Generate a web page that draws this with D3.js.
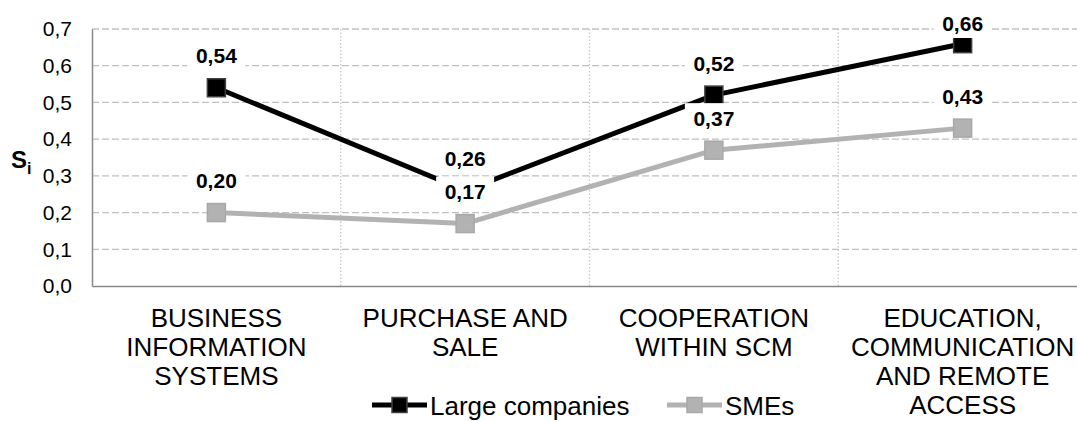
<!DOCTYPE html>
<html>
<head>
<meta charset="utf-8">
<script src="https://cdn.jsdelivr.net/npm/d3@7"></script>
<style>
  html, body { margin: 0; padding: 0; background: #fff; }
  svg { display: block; font-family: "Liberation Sans", Arial, sans-serif; }
</style>
</head>
<body>
<svg id="chart" width="1077" height="421"></svg>
<script>
// Categories (line breaks mark how each axis label wraps)
const categories = [
  "BUSINESS\nINFORMATION\nSYSTEMS",
  "PURCHASE AND\nSALE",
  "COOPERATION\nWITHIN SCM",
  "EDUCATION,\nCOMMUNICATION\nAND REMOTE\nACCESS"
];
const largeCompanies = [0.54, 0.26, 0.52, 0.66];
const smes = [0.20, 0.17, 0.37, 0.43];
const yTicks = [0, 0.1, 0.2, 0.3, 0.4, 0.5, 0.6, 0.7];
const seriesNames = ["Large companies", "SMEs"];

const series = [
  { name: seriesNames[0], values: largeCompanies, line: "#000000", fill: "#000000", stroke: "#404040" },
  { name: seriesNames[1], values: smes, line: "#b2b2b2", fill: "#b2b2b2", stroke: "#a8a8a8" }
];

const svg = d3.select("#chart");
const plot = { left: 92, right: 1087, top: 29, bottom: 286 };

const locale = d3.formatLocale({ decimal: ",", thousands: " ", grouping: [3], currency: ["", ""] });
const fmtTick = locale.format(".1f");
const fmtVal = locale.format(".2f");

const x = d3.scaleBand().domain(categories).range([plot.left, plot.right]).padding(0);
const y = d3.scaleLinear().domain([0, 0.7]).range([plot.bottom, plot.top]);
const cx = c => x(c) + x.bandwidth() / 2;

// Horizontal dashed gridlines
svg.append("g").selectAll("line").data(yTicks.filter(t => t > 0)).join("line")
  .attr("x1", plot.left).attr("x2", plot.right)
  .attr("y1", d => y(d)).attr("y2", d => y(d))
  .attr("stroke", "#c0c0c0").attr("stroke-width", 1.3)
  .attr("stroke-dasharray", "7,3");

// Vertical dotted gridlines at category boundaries
svg.append("g").selectAll("line").data(categories.slice(1)).join("line")
  .attr("x1", d => x(d)).attr("x2", d => x(d))
  .attr("y1", plot.top).attr("y2", plot.bottom)
  .attr("stroke", "#c8c8c8").attr("stroke-width", 1.3)
  .attr("stroke-dasharray", "1.5,2");

// Y axis
const yAxis = d3.axisLeft(y).tickValues(yTicks).tickFormat(fmtTick).tickSize(0).tickPadding(20);
const gy = svg.append("g").attr("transform", `translate(${plot.left},0)`).call(yAxis);
gy.select(".domain").attr("stroke", "#888").attr("stroke-width", 1.5);
gy.selectAll("text").attr("font-size", 21).attr("fill", "#000")
  .attr("font-family", "'Liberation Sans', Arial, sans-serif");

// X axis
const xAxis = d3.axisBottom(x).tickSize(0).tickFormat("");
const gx = svg.append("g").attr("transform", `translate(0,${plot.bottom})`).call(xAxis);
gx.select(".domain").attr("stroke", "#888").attr("stroke-width", 1.5);

// Category labels
const catG = svg.append("g");
categories.forEach(c => {
  const lines = c.split("\n");
  const t = catG.append("text")
    .attr("x", cx(c)).attr("y", 327)
    .attr("text-anchor", "middle")
    .attr("font-size", 26).attr("fill", "#000");
  lines.forEach((ln, i) => {
    t.append("tspan").attr("x", cx(c)).attr("dy", i === 0 ? 0 : 29).text(ln);
  });
});

// Y axis title: S with subscript i
const yt = svg.append("text").attr("x", 11).attr("y", 168)
  .attr("font-size", 24).attr("font-weight", "bold").attr("fill", "#000");
yt.append("tspan").text("S");
yt.append("tspan").attr("dy", 6).attr("font-size", 16).text("i");

// Lines
const lineGen = d3.line().x((d, i) => cx(categories[i])).y(d => y(d));
svg.append("g").selectAll("path").data(series).join("path")
  .attr("d", s => lineGen(s.values))
  .attr("fill", "none").attr("stroke", s => s.line)
  .attr("stroke-width", 5).attr("stroke-linejoin", "round");

// Markers
const msize = 18;
series.forEach(s => {
  svg.append("g").selectAll("rect").data(s.values).join("rect")
    .attr("x", (d, i) => cx(categories[i]) - msize / 2)
    .attr("y", d => y(d) - msize / 2)
    .attr("width", msize).attr("height", msize)
    .attr("fill", s.fill).attr("stroke", s.stroke).attr("stroke-width", 1.5);
});

// Data labels with white boxes
const labG = svg.append("g");
series.forEach(s => {
  s.values.forEach((v, i) => {
    const lx = cx(categories[i]);
    const ly = Math.max(y(v) - 32, 23);
    labG.append("rect")
      .attr("x", lx - 29).attr("y", ly - 15)
      .attr("width", 58).attr("height", 30)
      .attr("fill", "#fff");
    labG.append("text")
      .attr("x", lx).attr("y", ly + 7.5)
      .attr("text-anchor", "middle")
      .attr("font-size", 21).attr("font-weight", "bold").attr("fill", "#000")
      .text(fmtVal(v));
  });
});

// Legend
const legend = [
  { s: series[0], x0: 372, x1: 427, tx: 430 },
  { s: series[1], x0: 667, x1: 722, tx: 725 }
];
const lg = svg.append("g");
legend.forEach(l => {
  const ly = 405;
  lg.append("line").attr("x1", l.x0).attr("x2", l.x1).attr("y1", ly).attr("y2", ly)
    .attr("stroke", l.s.line).attr("stroke-width", 5);
  const m = 15;
  lg.append("rect").attr("x", (l.x0 + l.x1) / 2 - m / 2).attr("y", ly - m / 2)
    .attr("width", m).attr("height", m)
    .attr("fill", l.s.fill).attr("stroke", l.s.stroke).attr("stroke-width", 1.5);
  lg.append("text").attr("x", l.tx).attr("y", ly + 10)
    .attr("font-size", 26).attr("fill", "#000").text(l.s.name);
});
</script>
</body>
</html>
